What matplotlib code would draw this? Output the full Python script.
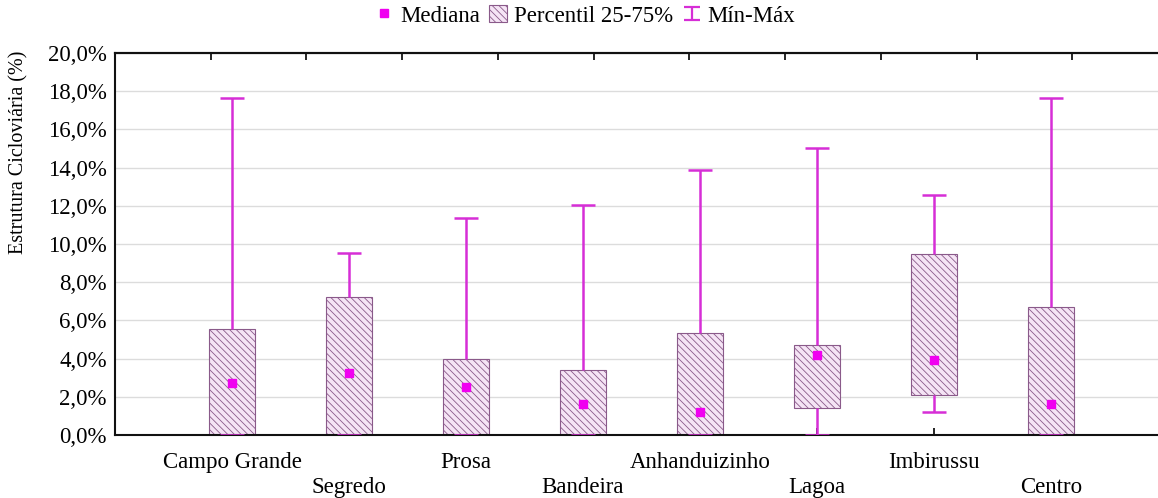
import matplotlib
matplotlib.use("Agg")
import matplotlib.pyplot as plt
from matplotlib.patches import Patch
from matplotlib.lines import Line2D
from matplotlib.ticker import FuncFormatter
from matplotlib.container import ErrorbarContainer
from matplotlib.legend_handler import HandlerErrorbar
import numpy as np

categories = ["Campo Grande", "Segredo", "Prosa", "Bandeira", "Anhanduizinho",
              "Lagoa", "Imbirussu", "Centro"]
medians = [2.74, 3.27, 2.53, 1.61, 1.22, 4.19, 3.93, 1.64]
q1 = [0.0, 0.0, 0.0, 0.0, 0.0, 1.43, 2.10, 0.0]
q3 = [5.54, 7.22, 3.97, 3.41, 5.36, 4.72, 9.50, 6.69]
mins = [0.0, 0.0, 0.0, 0.0, 0.0, 0.0, 1.21, 0.0]
maxs = [17.66, 9.54, 11.35, 12.03, 13.85, 15.0, 12.56, 17.65]

W, H = 1158, 498
plt.rcParams['font.family'] = ['Liberation Serif', 'DejaVu Serif']
plt.rcParams['hatch.linewidth'] = 0.6
plt.rcParams['hatch.color'] = '#866a86'

fig = plt.figure(figsize=(W / 100, H / 100), dpi=100)
ax = fig.add_axes([115 / W, 63 / H, 1053 / W, 382 / H])

x = np.arange(1, len(categories) + 1)
whisk = '#d62ed6'
med_c = '#f000f0'
box_face = '#f5e4f5'
box_edge = '#8a5a8a'
hatch = '\\\\\\\\\\'

ax.set_axisbelow(True)
ax.yaxis.grid(True, color='#dcdcdc', lw=1.0)

ax.bar(x, np.array(q3) - np.array(q1), bottom=q1, width=0.4,
       facecolor=box_face, edgecolor=box_edge, linewidth=0.8,
       hatch=hatch, zorder=2)
# whiskers
ax.vlines(x, q3, maxs, color=whisk, lw=1.8, zorder=3)
ax.vlines(x, mins, q1, color=whisk, lw=1.8, zorder=3)
ax.hlines(maxs, x - 0.1, x + 0.1, color=whisk, lw=1.8, zorder=3)
ax.hlines(mins, x - 0.1, x + 0.1, color=whisk, lw=1.8, zorder=3)
ax.plot(x, medians, 's', color=med_c, markersize=5.5, zorder=4, linestyle='none')

# hidden errorbar used only for the legend symbol
h3 = ax.errorbar([-5], [5], yerr=[1], fmt='none', ecolor=whisk, capsize=5.5,
                 elinewidth=1.6, capthick=1.6)

ax.set_xlim(0, 9)
ax.set_ylim(0, 20)
ax.set_yticks(np.arange(0, 21, 2))
ax.yaxis.set_major_formatter(FuncFormatter(lambda v, p: f"{v:.1f}%".replace('.', ',')))
ax.set_xticks(x)
ax.set_xticklabels([c if i % 2 == 0 else "\n" + c for i, c in enumerate(categories)])
ax.tick_params(axis='x', direction='in', length=5, width=1.2, labelsize=16.5, pad=12)
for t in ax.get_xticklabels():
    t.set_linespacing(1.3)
ax.tick_params(axis='y', length=0, labelsize=16.5, pad=6)
ax.set_ylabel("Estrutura Cicloviária (%)", fontsize=14.5)
ax.yaxis.set_label_coords(-0.082, 0.74)

for s in ['left', 'bottom', 'top']:
    ax.spines[s].set_linewidth(1.5)
    ax.spines[s].set_color('#111111')
ax.spines['right'].set_visible(False)

ax2 = ax.twiny()
ax2.set_xlim(0, 11)
ax2.set_xticks(np.arange(1, 11))
ax2.set_xticklabels([])
ax2.tick_params(axis='x', direction='in', length=5, width=1.2)
for s in ['left', 'bottom', 'right']:
    ax2.spines[s].set_visible(False)
ax2.spines['top'].set_linewidth(1.5)
ax2.spines['top'].set_color('#111111')

h1 = Line2D([], [], marker='s', color=med_c, linestyle='none', markersize=5.5)
h2 = Patch(facecolor=box_face, edgecolor=box_edge, hatch=hatch, linewidth=0.8)
fig.legend([h1, h2, h3], ["Mediana", "Percentil 25-75%", "Mín-Máx"],
           loc='center', bbox_to_anchor=(585 / W, 1 - 16 / H), ncol=3, frameon=False,
           fontsize=16.5, handlelength=0.8, handletextpad=0.3, columnspacing=0.4,
           borderaxespad=0,
           handler_map={ErrorbarContainer: HandlerErrorbar(xerr_size=0.3, yerr_size=0.27)})

fig.savefig("out.png", dpi=100)
